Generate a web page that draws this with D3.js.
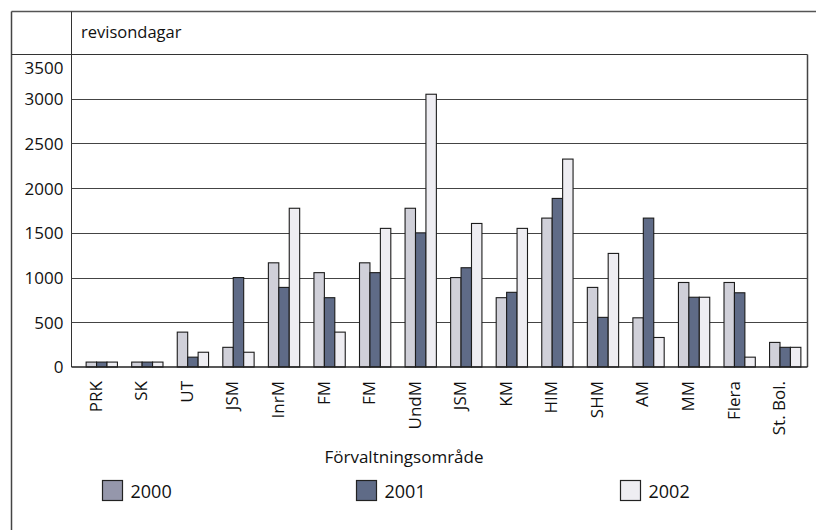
<!DOCTYPE html>
<html><head><meta charset="utf-8">
<script src="https://cdn.jsdelivr.net/npm/d3@7"></script>
<style>
body{margin:0;background:#fff}
text{font-family:"Open Sans",sans-serif;fill:#111}
</style>
</head><body>
<svg id="chart" width="816" height="530"></svg>
<script>
// Revisondagar per förvaltningsområde, 2000–2002
const categories = ["PRK","SK","UT","JSM","InrM","FM","FM","UndM","JSM","KM","HIM","SHM","AM","MM","Flera","St. Bol."];
const years = ["2000","2001","2002"];
const values2000 = [55,55,390,220,1165,1055,1165,1775,1000,775,1665,890,550,945,945,275];
const values2001 = [55,55,110,1000,890,775,1055,1500,1110,835,1885,555,1665,780,830,220];
const values2002 = [55,55,165,165,1775,390,1550,3050,1605,1550,2325,1270,330,780,110,220];
const yTicks = [0,500,1000,1500,2000,2500,3000,3500];
const barColors = ["#d0d0d9","#5f6b87","#eeedf2"];
const legendColors = ["#9597ab","#5f6b87","#eeedf2"];
const axisTitle = "revisondagar";
const xTitle = "Förvaltningsområde";

const series = [values2000, values2001, values2002];
const svg = d3.select("#chart");

const frameL = 11.5, frameT = 11.5, axisX = 71.5, plotR = 807.5;
const y = d3.scaleLinear().domain([0, 3500]).range([367, 54]);
const x = d3.scaleBand().domain(d3.range(categories.length))
  .range([79, 808]).paddingInner(0.313).paddingOuter(0.1565);
const xi = d3.scaleBand().domain(years).range([0, x.bandwidth()]);

const line = (x1, y1, x2, y2, c, w) => svg.append("line")
  .attr("x1", x1).attr("y1", y1).attr("x2", x2).attr("y2", y2)
  .attr("stroke", c).attr("stroke-width", w || 1);

// outer frame (top and left edges)
line(frameL, frameT, 816, frameT, "#555", 1.5);
line(frameL, frameT, frameL, 530, "#444", 1.5);
// header separator and value axis line
line(frameL, Math.round(y(3500)) + 0.5, plotR, Math.round(y(3500)) + 0.5, "#333");
line(axisX, frameT, axisX, y(0), "#333");
line(plotR, Math.round(y(3500)) + 0.5, plotR, y(0), "#444", 1.5);

// horizontal gridlines
svg.append("g").selectAll("line")
  .data(yTicks.filter(t => t > 0 && t < 3500))
  .join("line")
  .attr("x1", axisX).attr("x2", plotR)
  .attr("y1", d => Math.round(y(d)) + 0.5).attr("y2", d => Math.round(y(d)) + 0.5)
  .attr("stroke", "#444").attr("stroke-width", 1);

// value axis labels
const yAxis = svg.append("g").attr("transform", `translate(${axisX},0)`)
  .call(d3.axisLeft(y).tickValues(yTicks).tickSize(0).tickPadding(8).tickFormat(d3.format("d")));
yAxis.select(".domain").remove();
yAxis.selectAll("text").style("font-family", "'Open Sans',sans-serif")
  .style("font-size", "17px").attr("fill", "#111")
  .attr("dy", d => d === 3500 ? "1.15em" : "0.35em");

svg.append("text").attr("x", 81).attr("y", 38).style("font-size", "16.5px").text(axisTitle);

// bars
const groups = svg.append("g").selectAll("g")
  .data(categories.map((c, i) => ({i, vals: series.map(s => s[i])})))
  .join("g").attr("transform", d => `translate(${x(d.i)},0)`);
groups.selectAll("rect")
  .data(d => d.vals.map((v, k) => ({v, k})))
  .join("rect")
  .attr("x", d => xi(years[d.k]))
  .attr("width", xi.bandwidth())
  .attr("y", d => y(d.v))
  .attr("height", d => y(0) - y(d.v))
  .attr("fill", d => barColors[d.k])
  .attr("stroke", "#1c1c1c").attr("stroke-width", 1.1);

// baseline
line(axisX, 367, plotR, 367, "#222", 1.5);

// category labels
svg.append("g").selectAll("text")
  .data(categories.map((c, i) => ({c, i})))
  .join("text")
  .attr("transform", d => `translate(${x(d.i) + x.bandwidth() / 2 - 6},381) rotate(-90)`)
  .attr("text-anchor", "end").attr("dy", "0.35em")
  .style("font-size", "17px")
  .text(d => d.c);

svg.append("text").attr("x", 404).attr("y", 463).attr("text-anchor", "middle")
  .style("font-size", "17px").text(xTitle);

// legend
const legendX = [102.5, 356.5, 620.5];
const leg = svg.append("g").selectAll("g").data(years).join("g")
  .attr("transform", (d, i) => `translate(${legendX[i]},480.5)`);
leg.append("rect").attr("width", 20).attr("height", 20)
  .attr("fill", (d, i) => legendColors[i]).attr("stroke", "#222").attr("stroke-width", 1.2);
leg.append("text").attr("x", 28).attr("y", 17).style("font-size", "18px").text(d => d);
</script>
</body></html>
